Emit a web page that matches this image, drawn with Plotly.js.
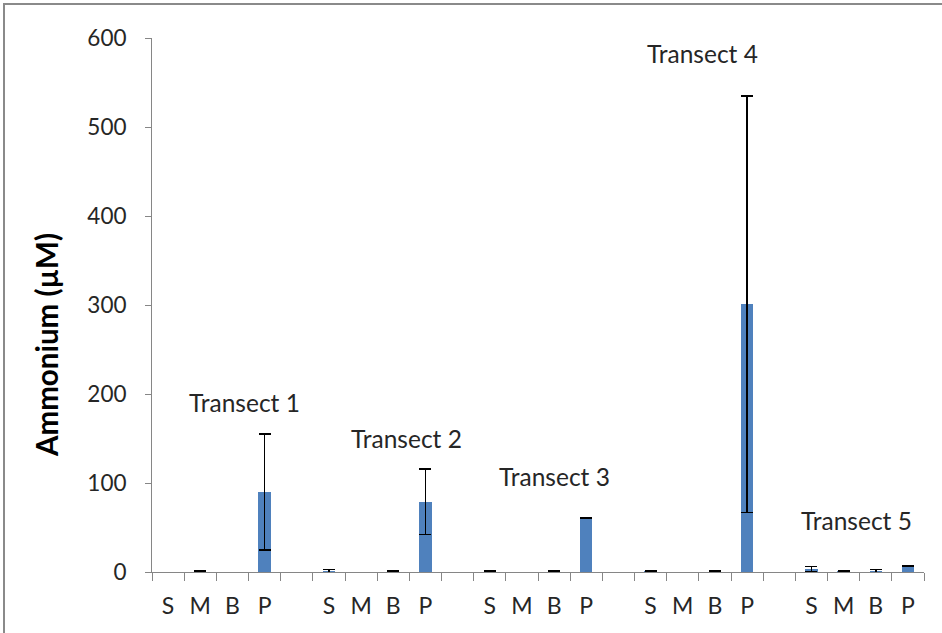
<!DOCTYPE html>
<html>
<head>
<meta charset="utf-8">
<script src="https://cdn.plot.ly/plotly-3.0.1.min.js"></script>
<style>
  html, body { margin: 0; padding: 0; background: #fff; }
  #wrap { position: relative; width: 942px; height: 633px; overflow: hidden; }
  #chart { position: absolute; left: 0; top: 0; width: 942px; height: 633px; }
  #frame { position: absolute; left: 3px; top: 3px; width: 960px; height: 660px;
           border-top: 2px solid #8a8a8a; border-left: 2px solid #8a8a8a; pointer-events: none; }
</style>
</head>
<body>
<div id="wrap">
  <div id="chart"></div>
  <div id="frame"></div>
</div>
<script>
// Category slots: four sample types per transect, blank gap slot between transects
const categories = ['S','M','B','P','', 'S','M','B','P','', 'S','M','B','P','', 'S','M','B','P','', 'S','M','B','P'];
// Ammonium (µM) mean values per slot (null = no value / gap)
const ammonium = [null, 0.8, null, 90, null,
                  1, null, 0.8, 79, null,
                  0.8, null, 0.8, 61, null,
                  0.8, null, 0.8, 301, null,
                  3, 0.8, 1, 7];
// Error (±) per slot
const errors = [null, 0.4, null, 65, null,
                2, null, 0.4, 37, null,
                0.4, null, 0.4, 0.3, null,
                0.4, null, 0.4, 234, null,
                3, 0.4, 2, 0.5];
const transectLabels = ['Transect 1','Transect 2','Transect 3','Transect 4','Transect 5'];
const yTicks = [0, 100, 200, 300, 400, 500, 600];

const xIdx = categories.map((_, i) => i);

const trace = {
  type: 'bar',
  x: xIdx,
  y: ammonium,
  width: 0.38,
  marker: { color: '#4F81BD', line: { width: 0 } },
  error_y: { type: 'data', array: errors, visible: true, color: '#000000', thickness: 1.5, width: 6 },
  hoverinfo: 'skip'
};

const labelPos = [[2.36, 191], [7.4, 150.5], [12.0, 107], [16.6, 583], [21.4, 58]];
const annotations = transectLabels.map((t, i) => ({
  text: t, x: labelPos[i][0], y: labelPos[i][1], xref: 'x', yref: 'y',
  showarrow: false, xanchor: 'center', yanchor: 'middle',
  font: { family: 'Lato, sans-serif', size: 24.5, color: '#262626' }
}));
annotations.push({
  text: '<b>Ammonium (µM)</b>', xref: 'paper', yref: 'paper',
  x: (46 - 152) / 772, y: (572 - 345) / 534, textangle: -90,
  showarrow: false, xanchor: 'center', yanchor: 'middle',
  font: { family: 'Lato, sans-serif', size: 29.5, color: '#000000' }
});

const layout = {
  width: 942, height: 633,
  margin: { l: 152, r: 18, t: 38, b: 61, pad: 0 },
  paper_bgcolor: '#ffffff', plot_bgcolor: '#ffffff',
  showlegend: false,
  bargap: 0,
  xaxis: {
    range: [-0.5, categories.length - 0.5],
    tickmode: 'array', tickvals: xIdx, ticktext: categories,
    ticks: '', showgrid: false, zeroline: false,
    showline: true, linecolor: '#868686', linewidth: 1,
    tickfont: { family: 'Lato, sans-serif', size: 23, color: '#262626' },
    ticklabelstandoff: 13,
    minor: { ticks: 'outside', ticklen: 8, tickcolor: '#868686', tickwidth: 1,
             tickmode: 'linear', tick0: -0.5, dtick: 1, showgrid: false },
    fixedrange: true
  },
  yaxis: {
    range: [0, 600], tickmode: 'array', tickvals: yTicks,
    ticks: 'outside', ticklen: 6, tickcolor: '#868686', tickwidth: 1,
    showgrid: false, zeroline: false,
    showline: true, linecolor: '#868686', linewidth: 1,
    tickfont: { family: 'Lato, sans-serif', size: 22.5, color: '#262626' },
    ticklabelstandoff: 14,
    fixedrange: true
  },
  annotations: annotations
};

Plotly.newPlot('chart', [trace], layout, { staticPlot: true, displayModeBar: false });
</script>
</body>
</html>
